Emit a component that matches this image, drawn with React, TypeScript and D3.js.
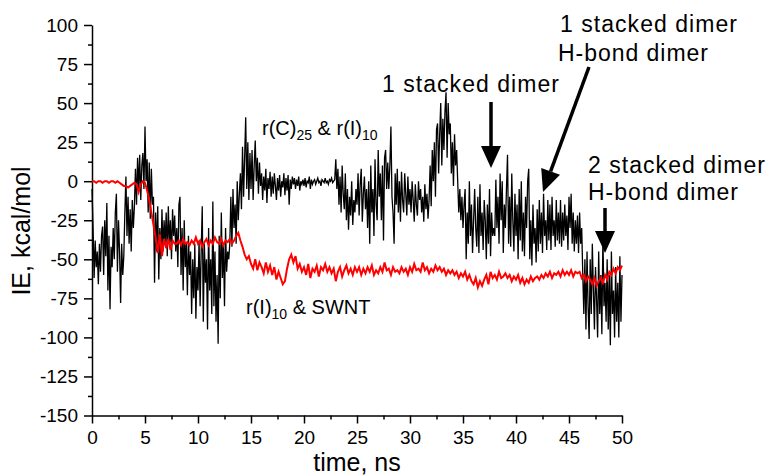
import React, { useRef, useEffect } from "react";
import * as d3 from "d3";

// time step of the sampled series, ns
const blackStep = 0.1;
const redStep = 0.2;

// r(C)25 & r(I)10 interaction energy, kcal/mol (0.1 ns apart)
const blackIE = [
  -5, -30, -62, -38, -55, -45, -66, -40, -58, -35,
  -29, -60, -25, -48, -14, -70, -35, -82, -42, -55,
  -30, -50, -20, -8, -58, -25, -45, -78, -40, -60,
  -48, -20, 3, -35, -10, -40, -18, -45, -12, -30,
  -16, 8, -15, 15, -5, 17, -12, 10, 18, -5,
  35, 0, 14, -20, 12, -24, 8, -15, -10, -65,
  -20, -45, -16, -63, -30, -50, -18, -45, -25, -40,
  -20, -48, -16, -40, -25, -50, -18, -35, -22, -45,
  -30, -55, -15, -10, -60, -30, -70, -25, -55, -40,
  -73, -35, -60, -45, -85, -50, -75, -40, -88, -55,
  -70, -38, -80, -45, -16, -90, -40, -65, -50, -95,
  -30, -70, -50, -85, -13, -80, -45, -90, -60, -104,
  -35, -75, -20, -62, -40, -80, -30, -58, -45, -50,
  -40, -10, -42, -5, -30, -15, -40, 0, -25, -8,
  5, -18, 22, -10, 15, 41, -5, 25, -12, 18,
  -5, 20, -12, 10, 26, 0, 15, -8, 12, -3,
  5, -12, 3, -6, 8, -14, 2, -5, 6, -10,
  3, -8, 5, -3, -12, 2, -6, 4, -10, 0,
  -4, 5, -9, 2, -6, 4, -15, 1, -5, 3,
  -2, 2, -5, 1, -3, 3, -6, 0, -2, 1,
  -3, 2, -4, 0, -1, 3, -5, 1, -2, 0,
  1, -2, 0, 2, -1, 0, -3, 1, 0, -1,
  2, -1, 0, -2, 1, 0, 2, -1, 0, 1,
  14, -5, 8, -15, 3, -20, 10, -8, -18, 5,
  -25, -5, -31, -10, -22, 0, -28, -12, -20, -5,
  -15, 5, -22, -2, 8, -26, -8, 3, -18, -5,
  -30, 0, -40, 10, -20, -5, -35, 14, -15, -25,
  20, -10, 5, -25, 10, -38, 15, 20, -5, 12,
  -5, 10, 35, -10, -20, -40, 5, -15, 8, -20,
  0, -26, 6, -12, -20, 5, -8, -22, 3, -15,
  -5, -20, 0, -12, -26, -2, -15, -22, 0, -12,
  -5, -20, -10, -26, -2, -18, -8, -24, -12, 10,
  -16, 20, 0, 25, -10, 33, 37, 5, 30, 50,
  10, 40, 20, 45, 57, 15, 50, 30, 37, 5,
  25, -3, 30, 10, 20, 0, -20, -5, -25, -10,
  -30, -15, -5, -50, -20, -40, 0, -35, -15, -46,
  -25, -5, -30, -42, -10, -46, -2, -35, -20, -44,
  -12, -25, -50, -15, -40, -5, -48, -20, -35, -30,
  -35, 1, -30, -10, -40, 5, -25, 0, -46, -15,
  -30, -5, 17, -40, -10, -42, 5, -25, -45, -8,
  -35, -15, -50, -5, -38, 0, -45, -20, -48, -10,
  -30, 0, 8, -50, -25, -54, -15, -40, -30, -52,
  -18, -45, -12, -40, -20, -46, -8, -35, -25, -44,
  -12, -38, -15, -44, -10, -35, -25, -42, -12, -38,
  -20, -40, -12, -42, -20, -38, -15, -35, -22, -44,
  -10, -30, -8, -40, -20, -45, -25, -40, -22, -46,
  -20, -40, -30, -60, -85, -50, -95, -45, -80, -101,
  -50, -85, -40, -70, -95, -55, -75, -100, -45, -85,
  -60, -98, -35, -80, -65, -90, -50, -95, -60, -105,
  -45, -85, -70, -100, -55, -90, -65, -100, -48, -90,
  -60,
];

// r(I)10 & SWNT interaction energy, kcal/mol (0.2 ns apart)
const redIE = [
  0, 0, -1, 0, 0,
  -1, 0, 0, -1, 0,
  0, -1, 0, -1, -2,
  -3, -3, -4, -3, -2,
  -1, -2, -7, -2, 0,
  -1, -6, -12, -20, -28,
  -36, -46, -34, -48, -37,
  -43, -37, -44, -38, -40,
  -40, -38, -41, -37, -40,
  -39, -41, -38, -40, -36,
  -40, -38, -42, -39, -37,
  -41, -38, -40, -36, -39,
  -40, -37, -41, -38, -39,
  -37, -40, -38, -35, -33,
  -38, -42, -47, -50, -48,
  -53, -56, -50, -57, -52,
  -55, -59, -52, -58, -54,
  -60, -55, -63, -58, -62,
  -66, -64, -56, -50, -47,
  -52, -48, -56, -53, -58,
  -55, -60, -53, -62, -56,
  -58, -54, -61, -55, -57,
  -53, -58, -55, -59, -56,
  -64, -58, -55, -61, -57,
  -54, -59, -56, -60, -55,
  -58, -55, -60, -56, -59,
  -55, -58, -54, -60, -57,
  -59, -55, -58, -52, -57,
  -56, -60, -55, -58, -57,
  -59, -55, -58, -56, -60,
  -55, -58, -53, -57, -56,
  -58, -52, -57, -55, -59,
  -56, -58, -54, -57, -55,
  -58, -56, -60, -57, -59,
  -57, -60, -58, -62, -59,
  -61, -58, -63, -60, -64,
  -66, -62, -68, -64, -67,
  -63, -60, -66, -58, -62,
  -60, -63, -58, -62, -61,
  -59, -62, -60, -64, -61,
  -63, -60, -65, -62, -66,
  -63, -65, -61, -64, -62,
  -61, -63, -60, -62, -59,
  -61, -58, -62, -59, -60,
  -58, -61, -57, -60, -58,
  -60, -57, -61, -58, -59,
  -58, -62, -60, -64, -61,
  -63, -66, -62, -67, -64,
  -62, -65, -60, -63, -58,
  -60, -56, -59, -55, -57,
  -54,
];

const yTicks = [-150, -125, -100, -75, -50, -25, 0, 25, 50, 75, 100];
const xTicks = [0, 5, 10, 15, 20, 25, 30, 35, 40, 45, 50];

const font = "'Liberation Sans', Arial, sans-serif";

export default function App() {
  const ref = useRef<SVGGElement>(null);
  const width = 769;
  const height = 476;

  useEffect(() => {
    const svg = d3.select(ref.current);
    svg.selectAll("*").remove();

    const x = d3.scaleLinear().domain([0, 50]).range([92, 622]);
    const y = d3.scaleLinear().domain([-150, 100]).range([415.5, 25]);

    // minor ticks
    svg
      .append("g")
      .attr("transform", `translate(${x(0)},0)`)
      .call(
        d3.axisLeft(y).tickValues(d3.range(-137.5, 100, 25)).tickSize(4).tickFormat(() => "")
      )
      .call((g) => g.select(".domain").remove());
    svg
      .append("g")
      .attr("transform", `translate(0,${y(-150)})`)
      .call(
        d3.axisBottom(x).tickValues(d3.range(2.5, 50, 5)).tickSize(4).tickFormat(() => "")
      )
      .call((g) => g.select(".domain").remove());

    const yAxis = svg
      .append("g")
      .attr("transform", `translate(${x(0)},0)`)
      .call(
        d3
          .axisLeft(y)
          .tickValues(yTicks)
          .tickSize(8)
          .tickSizeOuter(0)
          .tickPadding(6)
          .tickFormat((d) => String(d))
      );
    const xAxis = svg
      .append("g")
      .attr("transform", `translate(0,${y(-150)})`)
      .call(
        d3
          .axisBottom(x)
          .tickValues(xTicks)
          .tickSize(8)
          .tickSizeOuter(0)
          .tickPadding(7)
          .tickFormat((d) => String(d))
      );

    svg.selectAll(".tick line").attr("stroke", "#000").attr("stroke-width", 1.5);
    [yAxis, xAxis].forEach((a) => {
      a.select(".domain").attr("stroke", "#000").attr("stroke-width", 1.5);
      a.selectAll("text")
        .attr("font-family", font)
        .attr("font-size", 19)
        .attr("fill", "#000");
    });

    const line = d3
      .line<number>()
      .x((_, i) => x(i * blackStep))
      .y((d) => y(d));
    const redLine = d3
      .line<number>()
      .x((_, i) => x(i * redStep))
      .y((d) => y(d));

    svg
      .append("path")
      .datum(blackIE)
      .attr("fill", "none")
      .attr("stroke", "#000")
      .attr("stroke-width", 1.3)
      .attr("d", line);

    svg
      .append("path")
      .datum(redIE)
      .attr("fill", "none")
      .attr("stroke", "#ff0000")
      .attr("stroke-width", 2)
      .attr("d", redLine);
  }, []);

  const arrow = (x1: number, y1: number, x2: number, y2: number) => {
    const a = Math.atan2(y2 - y1, x2 - x1);
    const hl = 22;
    const hw = 10;
    const bx = x2 - hl * Math.cos(a);
    const by = y2 - hl * Math.sin(a);
    const px = -Math.sin(a) * hw;
    const py = Math.cos(a) * hw;
    return (
      <g>
        <line x1={x1} y1={y1} x2={bx} y2={by} stroke="#000" strokeWidth={3.5} />
        <polygon
          points={`${x2},${y2} ${bx + px},${by + py} ${bx - px},${by - py}`}
          fill="#000"
        />
      </g>
    );
  };

  const ann = { fontFamily: font, fontSize: 23, fill: "#000" };

  return (
    <svg
      width={width}
      height={height}
      style={{ position: "absolute", left: 0, top: 0, background: "#fff" }}
    >
      <rect width={width} height={height} fill="#fff" />
      <g ref={ref} />
      <text
        transform="translate(30,231) rotate(-90)"
        textAnchor="middle"
        fontFamily={font}
        fontSize={25}
      >
        IE, kcal/mol
      </text>
      <text x={357} y={471} textAnchor="middle" fontFamily={font} fontSize={25}>
        time, ns
      </text>
      <text x={262} y={135} fontFamily={font} fontSize={20}>
        r(C)<tspan fontSize={14} dy={5}>25</tspan>
        <tspan dy={-5}> &amp; r(I)</tspan>
        <tspan fontSize={14} dy={5}>10</tspan>
      </text>
      <text x={246} y={314} fontFamily={font} fontSize={20}>
        r(I)<tspan fontSize={14} dy={5}>10</tspan>
        <tspan dy={-5}> &amp; SWNT</tspan>
      </text>
      <text x={382} y={92} {...ann} textLength={177}>1 stacked dimer</text>
      <text x={560} y={32} {...ann} textLength={177}>1 stacked dimer</text>
      <text x={558} y={61} {...ann} textLength={150}>H-bond dimer</text>
      <text x={588} y={173} {...ann} textLength={177}>2 stacked dimer</text>
      <text x={588} y={200} {...ann} textLength={150}>H-bond dimer</text>
      {arrow(491, 102, 491, 168)}
      {arrow(589, 67, 543, 192)}
      {arrow(605, 208, 605, 253)}
    </svg>
  );
}
